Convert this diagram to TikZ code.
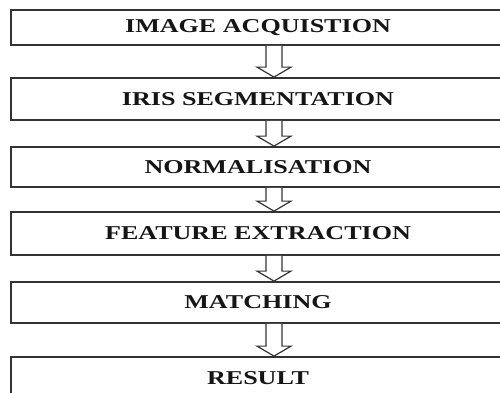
\documentclass[tikz,border=0pt]{standalone}
\usepackage{fontspec}
\setmainfont{Liberation Serif}
\usetikzlibrary{calc}
\definecolor{ink}{HTML}{151515}
\definecolor{edge}{HTML}{333333}
\tikzset{
  stagebox/.style={draw=edge, line width=1.8pt, minimum width=494pt, inner sep=0pt,
    font=\fontsize{19.6}{20}\selectfont\bfseries, text=ink},
  hollowarrow/.style={draw=edge, line width=1.2pt, fill=white, line join=miter},
}
\newcommand\stagelabel[1]{\scalebox{1.33}[1]{#1}}
\newcommand\flowarrow[2]{%
  \draw[hollowarrow] let \p1=(#1.south), \p2=(#2.north) in
    (\x1+8pt,\y1) -- (\x1+8pt,\y2+10pt) -- (\x1-1pt,\y2+10pt) -- (\x1+16pt,\y2)
    -- (\x1+33pt,\y2+10pt) -- (\x1+24pt,\y2+10pt) -- (\x1+24pt,\y1);}
\begin{document}
\begin{tikzpicture}[x=1pt,y=1pt]
\useasboundingbox[fill=white] (0,0) rectangle (500,-392);
\node[stagebox, minimum height=35pt] (b1) at (258,-27.5) {\stagelabel{IMAGE ACQUISTION}};
\node[stagebox, minimum height=42pt] (b2) at (258,-99) {\stagelabel{IRIS SEGMENTATION}};
\node[stagebox, minimum height=40pt] (b3) at (258,-167) {\stagelabel{NORMALISATION}};
\node[stagebox, minimum height=43pt] (b4) at (258,-233.5) {\stagelabel{FEATURE EXTRACTION}};
\node[stagebox, minimum height=41pt] (b5) at (258,-302.5) {\stagelabel{MATCHING}};
\node[stagebox, minimum height=42pt] (b6) at (258,-378) {\stagelabel{RESULT}};
\flowarrow{b1}{b2}
\flowarrow{b2}{b3}
\flowarrow{b3}{b4}
\flowarrow{b4}{b5}
\flowarrow{b5}{b6}
\end{tikzpicture}
\end{document}
